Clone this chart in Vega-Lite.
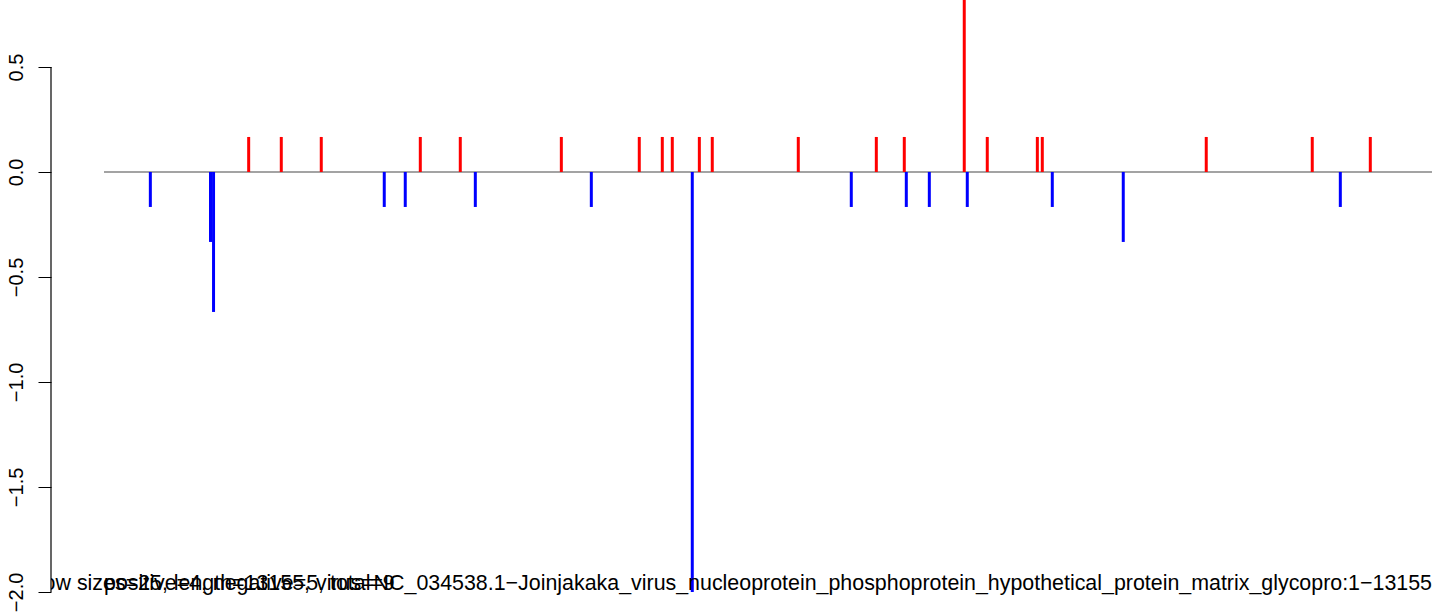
{
  "$schema": "https://vega.github.io/schema/vega-lite/v6.json",
  "width": 1393,
  "height": 615,
  "autosize": {"type": "none"},
  "padding": {"left": 51, "top": 0, "right": 0, "bottom": 0},
  "background": "white",
  "config": {"view": {"stroke": null}, "font": "Liberation Sans"},
  "datasets": {
    "bars": [
      {"pos": 1434, "value": 0.1667, "strand": "+"},
      {"pos": 1757, "value": 0.1667, "strand": "+"},
      {"pos": 2153, "value": 0.1667, "strand": "+"},
      {"pos": 3134, "value": 0.1667, "strand": "+"},
      {"pos": 3530, "value": 0.1667, "strand": "+"},
      {"pos": 4531, "value": 0.1667, "strand": "+"},
      {"pos": 5303, "value": 0.1667, "strand": "+"},
      {"pos": 5531, "value": 0.1667, "strand": "+"},
      {"pos": 5630, "value": 0.1667, "strand": "+"},
      {"pos": 5898, "value": 0.1667, "strand": "+"},
      {"pos": 6026, "value": 0.1667, "strand": "+"},
      {"pos": 6878, "value": 0.1667, "strand": "+"},
      {"pos": 7651, "value": 0.1667, "strand": "+"},
      {"pos": 7928, "value": 0.1667, "strand": "+"},
      {"pos": 8522, "value": 1.0, "strand": "+"},
      {"pos": 8750, "value": 0.1667, "strand": "+"},
      {"pos": 9246, "value": 0.1667, "strand": "+"},
      {"pos": 9295, "value": 0.1667, "strand": "+"},
      {"pos": 10919, "value": 0.1667, "strand": "+"},
      {"pos": 11969, "value": 0.1667, "strand": "+"},
      {"pos": 12544, "value": 0.1667, "strand": "+"},
      {"pos": 460, "value": -0.1667, "strand": "-"},
      {"pos": 1056, "value": -0.3333, "strand": "-"},
      {"pos": 1086, "value": -0.6667, "strand": "-"},
      {"pos": 2777, "value": -0.1667, "strand": "-"},
      {"pos": 2985, "value": -0.1667, "strand": "-"},
      {"pos": 3679, "value": -0.1667, "strand": "-"},
      {"pos": 4828, "value": -0.1667, "strand": "-"},
      {"pos": 5828, "value": -2.0, "strand": "-"},
      {"pos": 7403, "value": -0.1667, "strand": "-"},
      {"pos": 7948, "value": -0.1667, "strand": "-"},
      {"pos": 8176, "value": -0.1667, "strand": "-"},
      {"pos": 8552, "value": -0.1667, "strand": "-"},
      {"pos": 9394, "value": -0.1667, "strand": "-"},
      {"pos": 10097, "value": -0.3333, "strand": "-"},
      {"pos": 12247, "value": -0.1667, "strand": "-"}
    ],
    "baseline": [{"start": 1, "end": 13155, "y": 0}],
    "labels": [
      {"x": 13155, "y": -2.0, "label": "window sizes=25, length=13155, virus=NC_034538.1−Joinjakaka_virus_nucleoprotein_phosphoprotein_hypothetical_protein_matrix_glycopro:1−13155", "side": "right"},
      {"x": 1, "y": -2.0, "label": "positive=4, negative=5, total=9", "side": "left"}
    ]
  },
  "layer": [
    {
      "data": {"name": "baseline"},
      "mark": {"type": "rule", "color": "#a3a3a3", "strokeWidth": 2},
      "encoding": {
        "x": {"field": "start", "type": "quantitative", "scale": {"domain": [-524, 13274], "nice": false, "zero": false}, "axis": null},
        "x2": {"field": "end"},
        "y": {"field": "y", "type": "quantitative", "scale": {"domain": [-2.11, 0.819], "nice": false, "zero": false},
          "axis": {"orient": "left", "values": [-2, -1.5, -1, -0.5, 0, 0.5], "format": ".1f", "title": null, "domain": false, "grid": false,
            "tickSize": 13, "tickColor": "black", "tickWidth": 1, "labelAngle": -90, "labelFontSize": 20, "labelColor": "black",
            "labelFont": "Liberation Sans", "labelPadding": 12, "labelAlign": "center", "labelBaseline": "bottom"}}
      }
    },
    {
      "data": {"values": [{"x": -524, "y1": -2, "y2": 0.5}]},
      "mark": {"type": "rule", "color": "black", "strokeWidth": 1.2},
      "encoding": {
        "x": {"field": "x", "type": "quantitative"},
        "y": {"field": "y1", "type": "quantitative"},
        "y2": {"field": "y2"}
      }
    },
    {
      "data": {"name": "bars"},
      "mark": {"type": "rule", "strokeWidth": 3, "strokeCap": "butt", "clip": true},
      "encoding": {
        "x": {"field": "pos", "type": "quantitative"},
        "y": {"field": "value", "type": "quantitative"},
        "y2": {"datum": 0},
        "color": {"field": "strand", "type": "nominal", "scale": {"domain": ["+", "-"], "range": ["#ff0000", "#0000ff"]}, "legend": null}
      }
    },
    {
      "data": {"name": "labels"},
      "transform": [{"filter": "datum.side === 'right'"}],
      "mark": {"type": "text", "align": "right", "baseline": "alphabetic", "fontSize": 21.4, "font": "Liberation Sans", "color": "black", "clip": true, "dy": -2},
      "encoding": {
        "x": {"field": "x", "type": "quantitative"},
        "y": {"field": "y", "type": "quantitative"},
        "text": {"field": "label"}
      }
    },
    {
      "data": {"name": "labels"},
      "transform": [{"filter": "datum.side === 'left'"}],
      "mark": {"type": "text", "align": "left", "baseline": "alphabetic", "fontSize": 21.4, "font": "Liberation Sans", "color": "black", "clip": true, "dy": -2},
      "encoding": {
        "x": {"field": "x", "type": "quantitative"},
        "y": {"field": "y", "type": "quantitative"},
        "text": {"field": "label"}
      }
    }
  ]
}
